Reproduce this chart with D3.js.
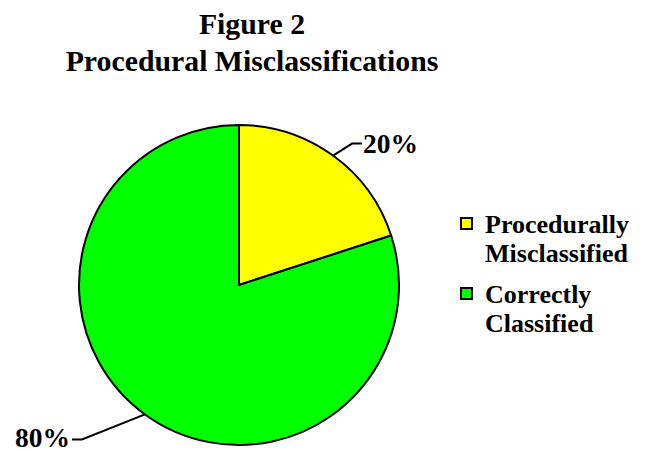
<!DOCTYPE html>
<html><head><meta charset="utf-8">
<script src="https://cdn.jsdelivr.net/npm/d3@7/dist/d3.min.js"></script>
<style>body{margin:0;background:#fff}svg{display:block}text{font-family:"Liberation Serif","Times New Roman",serif;font-weight:bold;fill:#000}</style>
</head><body>
<script>
const titleLines = ["Figure 2", "Procedural Misclassifications"];
const categories = ["Procedurally Misclassified", "Correctly Classified"];
const legendLines = [["Procedurally", "Misclassified"], ["Correctly", "Classified"]];
const values = [20, 80];
const colors = ["#ffff00", "#00ff00"];

const W = 648, H = 451;
const svg = d3.select("body").append("svg").attr("width", W).attr("height", H);

svg.selectAll("text.title").data(titleLines).enter().append("text")
  .attr("class", "title").attr("x", 252).attr("y", (d, i) => 34 + i * 37)
  .attr("text-anchor", "middle").style("font-size", "29.8px").text(d => d);

const cx = 239, cy = 285, r = 160;
const pie = d3.pie().sort(null).value(d => d)(values);
const arc = d3.arc().innerRadius(0).outerRadius(r);
const g = svg.append("g").attr("transform", `translate(${cx},${cy})`);
g.selectAll("path").data(pie).enter().append("path")
  .attr("d", arc).attr("fill", (d, i) => colors[i])
  .attr("stroke", "#000").attr("stroke-width", 2).attr("stroke-linejoin", "round");

// labels with leader lines
const total = d3.sum(values);
pie.forEach((p, i) => {
  const a = (p.startAngle + p.endAngle) / 2;
  const x0 = Math.sin(a) * r, y0 = -Math.cos(a) * r;
  const right = Math.sin(a) > 0;
  const x1 = x0 + (right ? 19 : -63), y1 = y0 + (right ? -12 : 25);
  const x2 = x1 + (right ? 10 : -10);
  g.append("polyline").attr("points", `${x0},${y0} ${x1},${y1} ${x2},${y1}`)
    .attr("fill", "none").attr("stroke", "#000").attr("stroke-width", 2);
  g.append("text").attr("x", x2 + (right ? 1 : -2)).attr("y", y1 + (right ? 9 : 8))
    .attr("text-anchor", right ? "start" : "end").style("font-size", "27.5px")
    .text(Math.round(values[i] / total * 100) + "%");
});

// legend
const lg = svg.append("g");
categories.forEach((c, i) => {
  const y0 = 233 + i * 70;
  lg.append("rect").attr("x", 461).attr("y", y0 - 15).attr("width", 11).attr("height", 11)
    .attr("fill", colors[i]).attr("stroke", "#000").attr("stroke-width", 2);
  legendLines[i].forEach((t, j) => {
    lg.append("text").attr("x", 485).attr("y", y0 + j * 29).style("font-size", "26px").text(t);
  });
});
</script>
</body></html>
